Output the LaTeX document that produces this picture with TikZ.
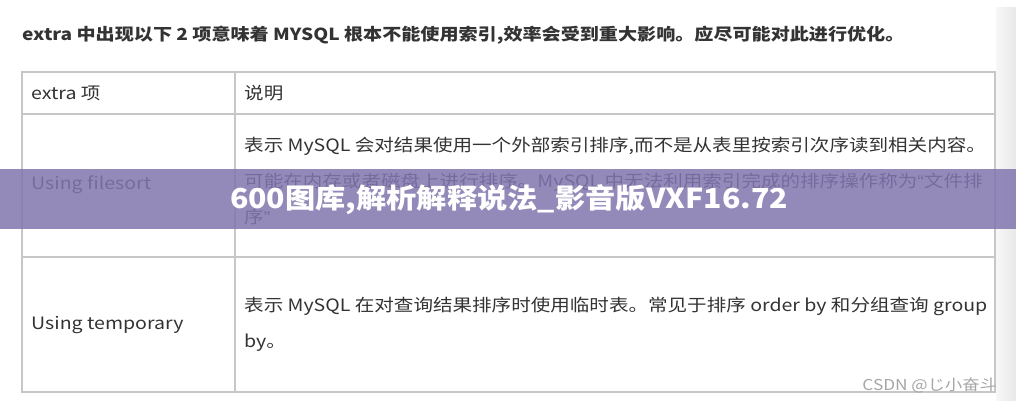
\documentclass[tikz,border=0pt]{standalone}
\usepackage{fontspec}
\setmainfont{Noto Sans CJK SC}[FakeStretch=1.15]
\newfontfamily\bannerfont{Noto Sans CJK SC}[FakeStretch=1.1]
\newfontfamily\quotefont{Liberation Sans}[FakeStretch=1.15]
\definecolor{textgray}{rgb}{0.2, 0.2, 0.2}
\definecolor{linegray}{rgb}{0.78, 0.78, 0.78}
\definecolor{bannerpurple}{RGB}{130,118,175}

\begin{document}
\begin{tikzpicture}[x=1pt, y=-1pt,
    cell/.style={anchor=west, inner sep=0pt, text=textgray, align=left, font=\fontsize{17}{36}\selectfont},
    rule/.style={draw=linegray, line width=1.3pt}]
    \useasboundingbox[fill=white] (0,0) rectangle (1016,400);
    %% strip at the right edge
    \shade[left color=black!3, right color=black!9] (996,7) rectangle (1016,400);

    \node[cell, font=\fontsize{16.6}{24}\selectfont\bfseries] (title) at (22,35) {extra 中出现以下 2 项意味着 MYSQL 根本不能使用索引,效率会受到重大影响。应尽可能对此进行优化。};

    %% table grid
    \draw[rule] (22,72) rectangle (995,392);
    \foreach \y in {114,257} {
        \draw[rule] (22,\y) -- (995,\y);
    }
    \draw[rule] (235,72) -- (235,392);

    \node[cell] (headkey) at (31,93) {extra 项};
    \node[cell] (headdesc) at (244,93) {说明};
    \node[cell] (filesort) at (31,185) {Using filesort};
    \node[cell] (filesortdesc) at (244,181) {表示 MySQL 会对结果使用一个外部索引排序,而不是从表里按索引次序读到相关内容。\\可能在内存或者磁盘上进行排序。MySQL 中无法利用索引完成的排序操作称为{\quotefont “}文件排\\序{\quotefont ”}};
    \node[cell] (temporary) at (31,325) {Using temporary};
    \node[cell] (temporarydesc) at (244,324) {表示 MySQL 在对查询结果排序时使用临时表。常见于排序 order by 和分组查询 group\\by。};

    %% banner over the table
    \fill[bannerpurple, fill opacity=0.85] (0,169) rectangle (1016,229);
    \node[text=white, font=\bannerfont\fontsize{27.5}{30}\selectfont\bfseries] (banner) at (509,200) {600图库,解析解释说法\_影音版VXF16.72};

    \node[anchor=east, inner sep=0pt, text=black!35, font=\fontsize{15}{16}\selectfont] (mark) at (997,385) {CSDN @じ小奋斗};
\end{tikzpicture}
\end{document}
